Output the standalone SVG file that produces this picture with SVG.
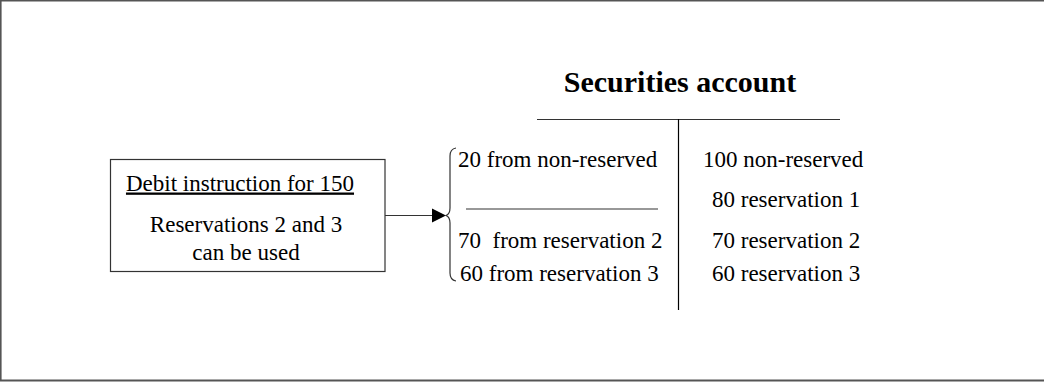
<svg xmlns="http://www.w3.org/2000/svg" width="1044" height="383" viewBox="0 0 1044 383">
  <defs>
    <style>
      .t { font-family: "Liberation Serif", "Times New Roman", serif; font-size: 23px; fill: #000; }
      .title { font-family: "Liberation Serif", "Times New Roman", serif; font-size: 30px; font-weight: bold; fill: #000; }
      .ln { stroke: #333; stroke-width: 1.2; fill: none; }
    </style>
  </defs>
  <rect x="0" y="0" width="1044" height="383" fill="#fff"/>
  <g id="frame">
    <line x1="0" y1="0.8" x2="1044" y2="0.8" stroke="#555" stroke-width="1.6"/>
    <line x1="0.8" y1="0" x2="0.8" y2="381" stroke="#555" stroke-width="1.6"/>
    <line x1="0" y1="380.5" x2="1044" y2="380.5" stroke="#555" stroke-width="1.8"/>
  </g>
  <g id="debit-instruction">
    <rect x="110.5" y="159.5" width="274.5" height="112" fill="#fff" stroke="#333" stroke-width="1.2"/>
    <text class="t" x="240" y="190.5" text-anchor="middle" text-decoration="underline">Debit instruction for 150</text>
    <text class="t" x="246" y="232" text-anchor="middle">Reservations 2 and 3</text>
    <text class="t" x="246" y="260" text-anchor="middle">can be used</text>
  </g>
  <g id="connectors">
    <line class="ln" x1="385" y1="215.5" x2="434" y2="215.5"/>
    <polygon points="432,208.5 446,215.5 432,222.5" fill="#000"/>
  </g>
  <g id="brace">
    <path class="ln" d="M456,148 Q450,149 450,156 L450,208 Q450,214 446,215.5 Q450,217 450,223 L450,273 Q450,280 456,281"/>
  </g>
  <g id="securities-account">
    <text class="title" x="680" y="92" text-anchor="middle">Securities account</text>
    <line class="ln" x1="537" y1="119.5" x2="840" y2="119.5"/>
    <line x1="678.5" y1="119" x2="678.5" y2="310" stroke="#000" stroke-width="1.2"/>
    <line class="ln" x1="466" y1="209" x2="658" y2="209"/>
    <text class="t" x="458" y="167">20 from non-reserved</text>
    <text class="t" x="458" y="248" xml:space="preserve">70  from reservation 2</text>
    <text class="t" x="460" y="281">60 from reservation 3</text>
    <text class="t" x="703" y="167">100 non-reserved</text>
    <text class="t" x="712" y="207">80 reservation 1</text>
    <text class="t" x="712" y="248">70 reservation 2</text>
    <text class="t" x="712" y="281">60 reservation 3</text>
  </g>
</svg>
